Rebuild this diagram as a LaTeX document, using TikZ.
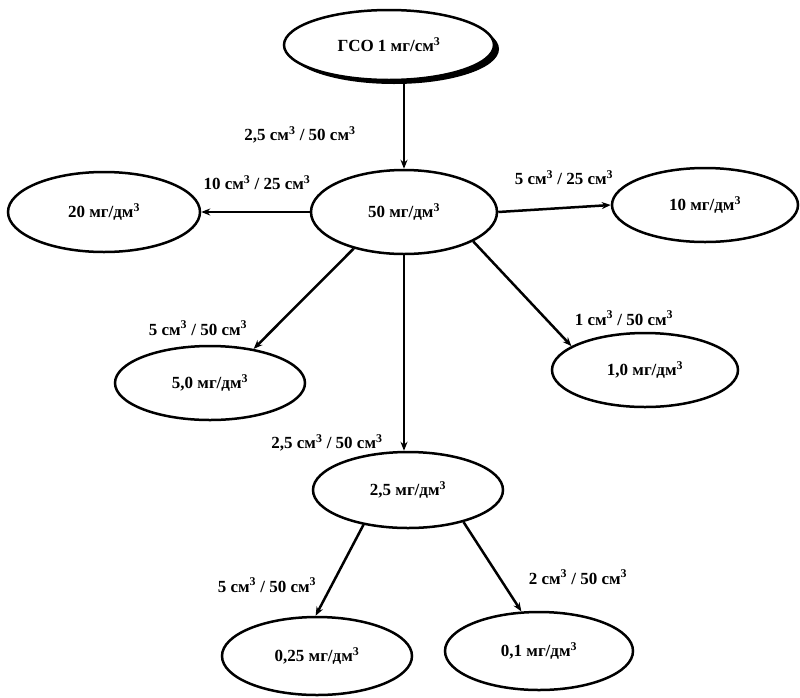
\documentclass[tikz,border=0pt]{standalone}
\usepackage{fontspec}
\setmainfont{Liberation Serif}
\usetikzlibrary{shapes.geometric,arrows.meta,shadows}
\newcommand{\cmcub}{см\textsuperscript{3}}
\newcommand{\mgdm}{мг/дм\textsuperscript{3}}
\tikzset{
  conc ellipse/.style={ellipse, draw, line width=2.5pt, fill=white, inner sep=0pt,
    font=\bfseries\fontsize{17}{20}\selectfont},
  dilution label/.style={inner sep=0pt, font=\bfseries\fontsize{17}{20}\selectfont},
  dilution arrow/.style={line width=2.5pt, -{Stealth[length=9pt,width=7pt]}},
}

\begin{document}
\begin{tikzpicture}[x=1pt,y=-1pt]
  \useasboundingbox (0,0) rectangle (800,697);
  % concentrations
  \node[conc ellipse, minimum width=210pt, minimum height=70pt,
    drop shadow={shadow xshift=5pt, shadow yshift=-4pt, fill=black, opacity=1}] (gso) at (389,45) {ГСО 1 мг/\cmcub};
  \node[conc ellipse, minimum width=186pt, minimum height=84pt] (c50) at (404,212) {50 \mgdm};
  \node[conc ellipse, minimum width=192pt, minimum height=80pt] (c20) at (104,212) {20 \mgdm};
  \node[conc ellipse, minimum width=186pt, minimum height=74pt] (c10) at (705,205) {10 \mgdm};
  \node[conc ellipse, minimum width=190pt, minimum height=74pt] (c5) at (210,383) {5,0 \mgdm};
  \node[conc ellipse, minimum width=186pt, minimum height=74pt] (c1) at (645,370) {1,0 \mgdm};
  \node[conc ellipse, minimum width=190pt, minimum height=76pt] (c25) at (408,490) {2,5 \mgdm};
  \node[conc ellipse, minimum width=190pt, minimum height=78pt] (c025) at (317,656) {0,25 \mgdm};
  \node[conc ellipse, minimum width=188pt, minimum height=78pt] (c01) at (539,651) {0,1 \mgdm};
  % dilutions
  \draw[dilution arrow] (gso.south -| c50.north) -- (c50.north);
  \draw[dilution arrow] (c50.west) -- (c20.east);
  \draw[dilution arrow] (c50.east) -- (c10.west);
  \draw[dilution arrow] (c50.216) -- (c5.38);
  \draw[dilution arrow] (c50.-23) -- (c1.162);
  \draw[dilution arrow] (c50.south) -- (c50.south |- c25.north);
  \draw[dilution arrow] (c25.218) -- (c025.92);
  \draw[dilution arrow] (c25.-30) -- (c01.114);
  % volumes
  \node[dilution label] (v1) at (300,135) {2,5 \cmcub{} / 50 \cmcub};
  \node[dilution label] (v2) at (257,183) {10 \cmcub{} / 25 \cmcub};
  \node[dilution label] (v3) at (564,178) {5 \cmcub{} / 25 \cmcub};
  \node[dilution label] (v4) at (198,328) {5 \cmcub{} / 50 \cmcub};
  \node[dilution label] (v5) at (624,318) {1 \cmcub{} / 50 \cmcub};
  \node[dilution label] (v6) at (327,443) {2,5 \cmcub{} / 50 \cmcub};
  \node[dilution label] (v7) at (267,585) {5 \cmcub{} / 50 \cmcub};
  \node[dilution label] (v8) at (578,577) {2 \cmcub{} / 50 \cmcub};
\end{tikzpicture}
\end{document}
